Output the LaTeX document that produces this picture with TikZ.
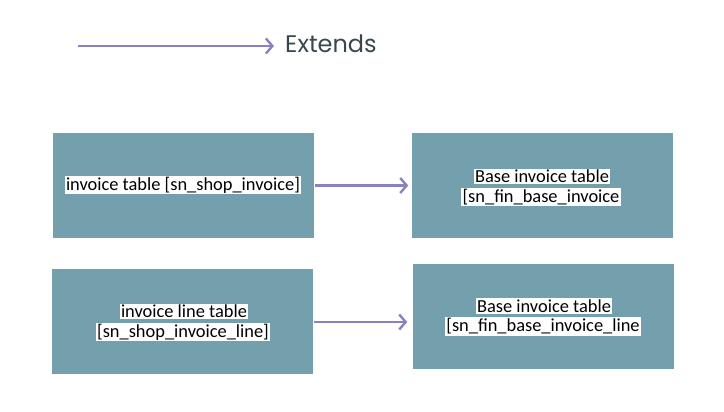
\documentclass[tikz,border=0pt]{standalone}
\usepackage{fontspec}
\setmainfont{Carlito}
\newfontfamily\legendfont{Poppins}
\usetikzlibrary{arrows.meta}
\definecolor{boxteal}{HTML}{74A0AD}
\definecolor{extpurple}{HTML}{8A82C0}
\definecolor{legtext}{HTML}{3A484D}
\tikzset{
  tablebox/.style={fill=boxteal, draw=none, minimum width=261pt, minimum height=105pt, inner sep=0pt},
  lbl/.style={fill=white, inner sep=1.2pt, font=\fontsize{18.4}{21}\selectfont, text=black},
  extarrow/.style={draw=extpurple, line width=2.4pt, -{Straight Barb[length=6.5pt,width=15pt,line width=2.4pt]}},
}
\begin{document}
\begin{tikzpicture}[x=1pt,y=-1pt]
\useasboundingbox (0,0) rectangle (724,412);
% legend
\coordinate (ls) at (78,46);
\node[anchor=west, inner sep=0pt, text=legtext, font=\legendfont\fontsize{24}{28}\selectfont] (lt) at (285,44) {Extends};
\coordinate (le) at (274,46);
\draw[extarrow] (ls) -- (le);
% boxes
\node[tablebox] (b1) at (183,185.5) {};
\node[tablebox] (b2) at (542,185.5) {};
\node[tablebox] (b3) at (182.5,321) {};
\node[tablebox] (b4) at (543,316) {};
% labels
\node[lbl] (t1) at (183,185) {invoice table [sn\_shop\_invoice]};
\node[lbl] (t2a) at (542,176.5) {Base invoice table};
\node[lbl] (t2b) at (541,197) {[sn\_fin\_base\_invoice};
\node[lbl] (t3a) at (184,311.5) {invoice line table};
\node[lbl] (t3b) at (183,332) {[sn\_shop\_invoice\_line]};
\node[lbl] (t4a) at (544,306) {Base invoice table};
\node[lbl] (t4b) at (543,326.5) {[sn\_fin\_base\_invoice\_line};
% connectors
\draw[extarrow] ([xshift=1pt]b1.east) -- ([xshift=-3pt]b2.west);
\draw[extarrow] ([xshift=1pt,yshift=-1pt]b3.east) -- ([xshift=-5pt,yshift=-1pt]b3.east -| b4.west);
\end{tikzpicture}
\end{document}
